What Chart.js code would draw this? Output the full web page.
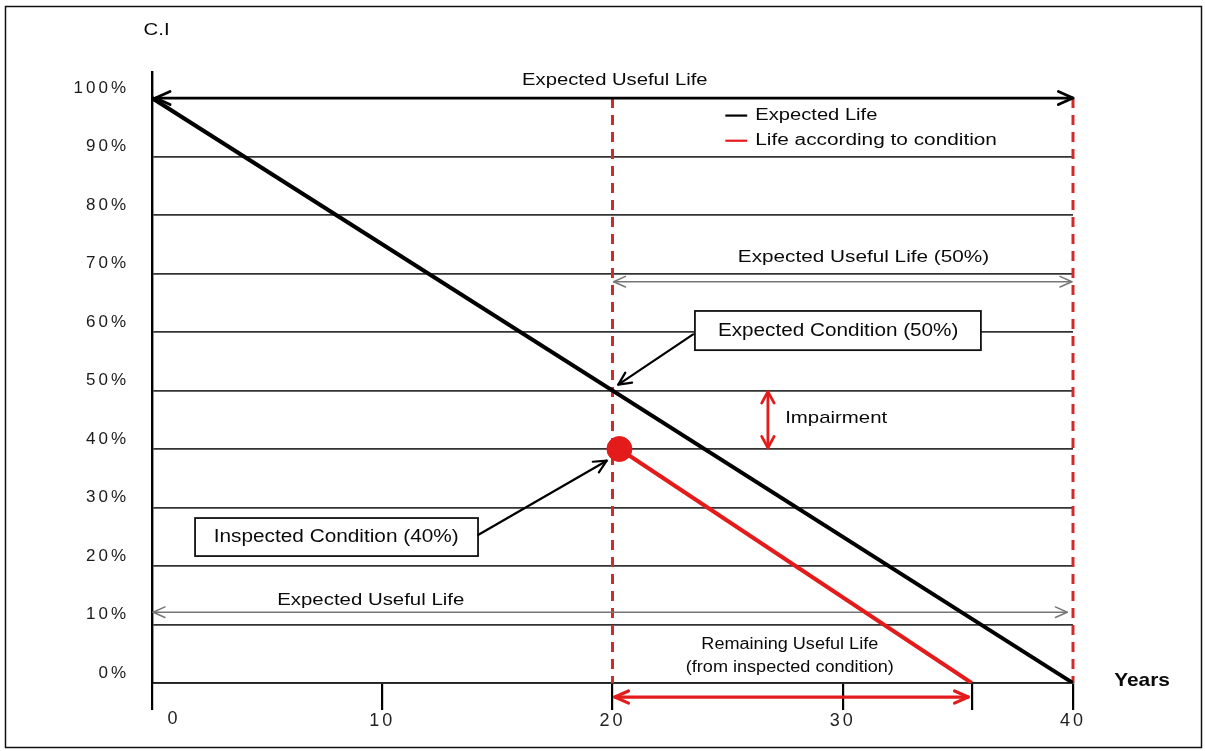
<!DOCTYPE html>
<html><head><meta charset="utf-8">
<script src="https://cdn.jsdelivr.net/npm/chart.js@4.4.1/dist/chart.umd.min.js"></script>
<style>html,body{margin:0;padding:0;background:#fff;} #wrap{width:1205px;height:751px;position:relative;}</style>
</head><body><div id="wrap"><canvas id="c" width="1205" height="751"></canvas></div>
<script>
// ---- data ----
const yTickValues = [0, 10, 20, 30, 40, 50, 60, 70, 80, 90, 100];
const xTickValues = [0, 10, 20, 30, 40];
const expectedYears = [0, 40];
const expectedCI = [100, 0];
const conditionYears = [20.3, 35.6];
const conditionCI = [40, 0];
const inspectedYear = [20.3];
const inspectedCI = [40];
const seriesNames = ['Expected Life', 'Life according to condition', 'Inspected Condition'];

const FONT = "'Liberation Sans', Arial, sans-serif";
const RED = '#e31b1b';
const DASH_RED = '#d02a2a';
const INK = '#0a0a0a';

function pts(xs, ys) { return xs.map((x, i) => ({ x: x, y: ys[i] })); }

function txt(ctx, s, x, y, size, o) {
  o = o || {};
  ctx.save();
  ctx.font = (o.bold ? 'bold ' : '') + size + 'px ' + FONT;
  ctx.fillStyle = o.color || INK;
  ctx.textBaseline = 'middle';
  ctx.textAlign = o.align || 'center';
  ctx.translate(x, y);
  ctx.scale(o.sx || 1.2, 1);
  ctx.fillText(s, 0, 0);
  ctx.restore();
}
function head(ctx, x1, y1, x2, y2, size, spread) {
  const a = Math.atan2(y2 - y1, x2 - x1);
  const s = spread || 0.45;
  ctx.beginPath();
  ctx.moveTo(x2 - size * Math.cos(a - s), y2 - size * Math.sin(a - s));
  ctx.lineTo(x2, y2);
  ctx.lineTo(x2 - size * Math.cos(a + s), y2 - size * Math.sin(a + s));
  ctx.stroke();
}
function arrow(ctx, x1, y1, x2, y2, o) {
  ctx.save();
  ctx.strokeStyle = o.color; ctx.lineWidth = o.width; ctx.lineCap = 'round'; ctx.lineJoin = 'round';
  ctx.beginPath(); ctx.moveTo(x1, y1); ctx.lineTo(x2, y2); ctx.stroke();
  head(ctx, x1, y1, x2, y2, o.size, o.spread);
  if (o.both) head(ctx, x2, y2, x1, y1, o.size, o.spread);
  ctx.restore();
}
function box(ctx, x1, y1, x2, y2) {
  ctx.save();
  ctx.fillStyle = '#fff'; ctx.strokeStyle = '#111'; ctx.lineWidth = 1.8;
  ctx.fillRect(x1, y1, x2 - x1, y2 - y1);
  ctx.strokeRect(x1, y1, x2 - x1, y2 - y1);
  ctx.restore();
}

const framePlugin = {
  id: 'frame',
  beforeDraw(chart) {
    const ctx = chart.ctx;
    ctx.save();
    ctx.fillStyle = '#fff';
    ctx.fillRect(0, 0, chart.width, chart.height);
    ctx.strokeStyle = '#111'; ctx.lineWidth = 1.5;
    ctx.strokeRect(5.5, 6.5, 1196, 741);
    ctx.restore();
    ctx.letterSpacing = '3px';
  },
  beforeDatasetsDraw(chart) {
    const ctx = chart.ctx;
    ctx.letterSpacing = '0px';
    const xs = chart.scales.x, ys = chart.scales.y;
    const X = v => xs.getPixelForValue(v), Y = v => ys.getPixelForValue(v);
    // red dashed verticals
    ctx.save();
    ctx.strokeStyle = DASH_RED; ctx.lineWidth = 3; ctx.setLineDash([10, 7]);
    [20, 40].forEach(v => {
      ctx.beginPath(); ctx.moveTo(X(v), Y(100)); ctx.lineTo(X(v), Y(0)); ctx.stroke();
    });
    ctx.restore();
    // gray "Expected Useful Life (50%)" arrow
    arrow(ctx, X(20.05), Y(68.6), X(39.95), Y(68.6), { color: '#777', width: 1.5, size: 13, spread: 0.42, both: true });
    // gray lower "Expected Useful Life" arrow
    arrow(ctx, X(0.05), Y(12.1), X(39.75), Y(12.1), { color: '#777', width: 1.5, size: 13, spread: 0.42, both: true });
  },
  afterDraw(chart) {
    const ctx = chart.ctx;
    ctx.letterSpacing = '0px';
    const xs = chart.scales.x, ys = chart.scales.y;
    const X = v => xs.getPixelForValue(v), Y = v => ys.getPixelForValue(v);
    // top black arrow
    arrow(ctx, X(0.15), Y(100), X(40), Y(100), { color: '#000', width: 2.8, size: 16, spread: 0.42, both: true });
    txt(ctx, 'Expected Useful Life', X(20.1), Y(103.1), 17, { sx: 1.19 });
    // C.I label
    txt(ctx, 'C.I', X(0.2), Y(111.6), 17);
    // legend
    ctx.save();
    ctx.lineWidth = 2.2;
    ctx.strokeStyle = '#000';
    ctx.beginPath(); ctx.moveTo(X(24.9), Y(97.0)); ctx.lineTo(X(25.85), Y(97.0)); ctx.stroke();
    ctx.strokeStyle = RED;
    ctx.beginPath(); ctx.moveTo(X(24.9), Y(92.7)); ctx.lineTo(X(25.85), Y(92.7)); ctx.stroke();
    ctx.restore();
    txt(ctx, seriesNames[0], X(26.2), Y(97.0), 16, { align: 'left', sx: 1.26 });
    txt(ctx, seriesNames[1], X(26.2), Y(92.7), 16, { align: 'left', sx: 1.30 });
    // Expected Useful Life (50%)
    txt(ctx, 'Expected Useful Life (50%)', X(30.9), Y(72.8), 17, { sx: 1.22 });
    // Expected Condition box + arrow
    box(ctx, X(23.58), Y(63.6), X(36.0), Y(56.9));
    txt(ctx, 'Expected Condition (50%)', X(29.8), Y(60.2), 18, { sx: 1.15 });
    arrow(ctx, X(23.5), Y(59.6), X(20.25), Y(51.0), { color: '#000', width: 2.2, size: 14, spread: 0.45 });
    // Impairment
    arrow(ctx, X(26.75), Y(49.8), X(26.75), Y(40.2), { color: RED, width: 2.8, size: 13, spread: 0.5, both: true });
    txt(ctx, 'Impairment', X(27.5), Y(45.3), 17, { align: 'left', sx: 1.2 });
    // Inspected condition box + arrow
    box(ctx, X(1.87), Y(28.2), X(14.16), Y(21.7));
    txt(ctx, 'Inspected Condition (40%)', X(8.0), Y(24.9), 18, { sx: 1.155 });
    arrow(ctx, X(14.16), Y(25.3), X(19.75), Y(38.0), { color: '#000', width: 2.2, size: 14, spread: 0.45 });
    // lower Expected Useful Life text
    txt(ctx, 'Expected Useful Life', X(9.5), Y(14.2), 17, { sx: 1.2 });
    // Remaining useful life
    txt(ctx, 'Remaining Useful Life', X(27.7), Y(6.5), 16, { sx: 1.13 });
    txt(ctx, '(from inspected condition)', X(27.7), Y(2.55), 16, { sx: 1.13 });
    arrow(ctx, X(20.1), Y(-2.4), X(35.45), Y(-2.4), { color: RED, width: 3.2, size: 15, spread: 0.42, both: true });
    // Years
    txt(ctx, 'Years', X(43.0), Y(0.4), 19, { bold: true, sx: 1.1 });
    // x label "0" (offset right of the axis)
    ctx.save();
    ctx.letterSpacing = '3px';
    ctx.font = '18px ' + FONT; ctx.fillStyle = '#222'; ctx.textAlign = 'center'; ctx.textBaseline = 'middle';
    ctx.fillText('0', X(0) + 22, 719);
    ctx.restore();
    ctx.letterSpacing = '0px';
  }
};

new Chart(document.getElementById('c'), {
  type: 'line',
  data: {
    datasets: [
      { label: seriesNames[0], data: pts(expectedYears, expectedCI), borderColor: '#000', borderWidth: 4, pointRadius: 0, order: 2 },
      { label: seriesNames[1], data: pts(conditionYears, conditionCI), borderColor: RED, borderWidth: 4, pointRadius: 0, order: 1 },
      { label: seriesNames[2], data: pts(inspectedYear, inspectedCI), showLine: false, pointRadius: 12.5, pointBackgroundColor: RED, pointBorderColor: RED, borderColor: RED, order: 0 }
    ]
  },
  options: {
    responsive: false,
    animation: false,
    devicePixelRatio: 1,
    layout: { padding: { top: 72, right: 132, bottom: 0, left: 0 } },
    plugins: { legend: { display: false }, tooltip: { enabled: false } },
    scales: {
      x: {
        type: 'linear', min: 0, max: 40,
        afterFit(s) { s.height = 68; },
        afterBuildTicks(s) { s.ticks = xTickValues.concat([conditionYears[1]]).map(v => ({ value: v })); },
        grid: { drawOnChartArea: false, drawTicks: true, tickLength: 27, color: '#000', lineWidth: 2.2 },
        border: { display: true, color: '#222', width: 1.8 },
        ticks: {
          padding: 0, color: '#222', font: { family: FONT, size: 18 }, maxRotation: 0, autoSkip: false,
          callback: v => (xTickValues.indexOf(v) > 0 ? String(v) : '')
        }
      },
      y: {
        type: 'linear', min: 0, max: 104.45,
        afterFit(s) { s.width = 152; },
        afterBuildTicks(s) { s.ticks = yTickValues.map(v => ({ value: v })); },
        grid: { drawTicks: false, color: '#333', lineWidth: 1.7 },
        border: { display: true, color: '#000', width: 2.4 },
        ticks: {
          padding: 23, labelOffset: -10, color: '#1a1a1a', font: { family: FONT, size: 17 },
          callback: v => v + '%'
        }
      }
    }
  },
  plugins: [framePlugin]
});
</script>
</body></html>
